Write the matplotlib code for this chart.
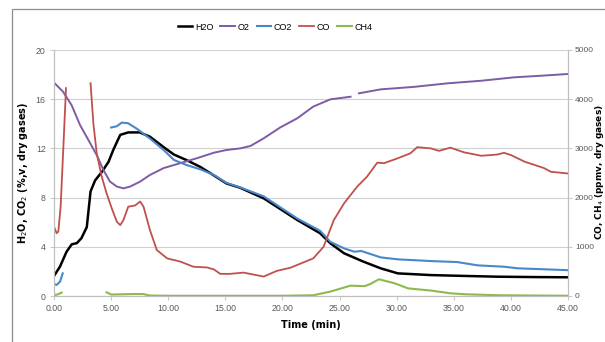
import numpy as np
import matplotlib.pyplot as plt
from matplotlib.lines import Line2D
from matplotlib.patches import Rectangle

nan = np.nan

# H2O [%]
t_h2o = [0, 0.53, 1.1, 1.55, 2.0, 2.4, 2.87, 3.2, 3.6, 4.2, 4.77, 5.2, 5.8, 6.5, 7.5, 8.4, 9.6,
         10.5, 11.6, 12.8, 14.0, 15.1, 16.3, 18.36, 21.3, 23.3, 24.2, 25.4, 27.1, 28.6, 30.1,
         33.0, 36.0, 38.8, 42.0, 45.0]
h2o = [1.63, 2.4, 3.6, 4.2, 4.3, 4.7, 5.6, 8.5, 9.4, 10.1, 10.9, 11.9, 13.1, 13.3, 13.3, 12.95, 12.1,
       11.5, 11.05, 10.5, 9.8, 9.15, 8.8, 7.94, 6.18, 5.1, 4.28, 3.47, 2.79, 2.25, 1.84,
       1.7, 1.63, 1.57, 1.54, 1.52]

# O2 [%]
t_o2 = [0, 0.8, 1.55, 2.28, 3.0, 3.74, 4.33, 4.9, 5.5, 6.08, 6.67, 7.54, 8.4, 9.6, 11.05, 12.5,
        14.0, 15.1, 16.3, 17.2, 18.36, 19.8, 21.3, 22.7, 24.2, 25.96, 26.3, 26.7, 28.6, 31.5,
        34.45, 37.4, 40.3, 42.5, 45.0]
o2 = [17.35, 16.6, 15.5, 13.9, 12.7, 11.46, 10.24, 9.3, 8.9, 8.75, 8.9, 9.3, 9.84, 10.4, 10.8, 11.2,
      11.65, 11.87, 12.0, 12.2, 12.82, 13.7, 14.45, 15.4, 15.99, 16.2, nan, 16.48, 16.8, 17.0,
      17.29, 17.5, 17.78, 17.9, 18.05]

# CO2 [%]
t_co2 = [0, 0.23, 0.53, 0.76, 2.0, 5.0, 5.5, 5.94, 6.5, 7.25, 8.4, 9.6, 10.5, 11.6, 12.8, 14.0,
         15.1, 16.3, 18.36, 21.3, 23.3, 24.2, 25.4, 26.3, 26.9, 28.6, 30.1, 33.0, 35.3, 37.1,
         39.4, 40.6, 45.0]
co2 = [0.98, 0.9, 1.17, 1.84, nan, 13.7, 13.8, 14.1, 14.04, 13.6, 12.8, 11.87, 11.06, 10.65, 10.3, 9.84,
       9.2, 8.83, 8.1, 6.3, 5.3, 4.4, 3.87, 3.6, 3.66, 3.14, 2.98, 2.84, 2.76, 2.49,
       2.38, 2.25, 2.1]

# CO [ppmv]
t_co = [0, 0.23, 0.38, 0.58, 0.82, 1.05, 2.0, 3.2, 3.45, 3.74, 4.18, 4.6, 5.06, 5.5, 5.8, 6.08,
        6.5, 7.1, 7.54, 7.84, 8.4, 9.0, 9.9, 11.05, 12.2, 13.4, 14.0, 14.56, 15.4, 16.6, 18.36,
        19.5, 20.7, 21.6, 22.7, 23.6, 24.5, 25.4, 26.55, 27.4, 28.3, 28.9, 30.1, 31.2, 31.8,
        33.0, 33.7, 34.7, 35.9, 37.4, 38.8, 39.4, 40.0, 41.2, 42.9, 43.5, 45.0]
co = [1410, 1275, 1310, 1815, 3025, 4225, nan, 4325, 3500, 2900, 2425, 2090, 1780, 1510, 1440, 1545,
      1815, 1840, 1920, 1815, 1340, 935, 765, 700, 595, 580, 540, 450, 450, 475, 395,
      510, 575, 660, 765, 1000, 1545, 1885, 2225, 2425, 2710, 2700, 2800, 2900, 3025,
      3000, 2950, 3015, 2920, 2850, 2875, 2910, 2865, 2730, 2600, 2525, 2490]

# CH4 [ppmv]
t_ch4 = [0, 0.3, 0.67, 2.0, 4.6, 5.0, 6.0, 7.0, 7.8, 8.4, 10.0, 15.0, 20.0, 22.7, 24.2, 25.96,
         27.2, 27.7, 28.45, 29.8, 31.0, 33.0, 34.7, 36.0, 39.0, 42.0, 45.0]
ch4 = [20, 30, 70, nan, 75, 30, 35, 40, 40, 10, 5, 5, 5, 15, 90, 210,
       200, 245, 340, 260, 155, 110, 55, 35, 15, 10, 5]

c_h2o = "#000000"
c_o2 = "#7E5BA6"
c_co2 = "#4A86C8"
c_co = "#C0504D"
c_ch4 = "#8DB94F"
tick_c = "#595959"
tick_font = "Liberation Sans"

fig = plt.figure(figsize=(6.05, 3.42), dpi=100)
ax = fig.add_axes([54 / 605, 1 - 296 / 342, (568 - 54) / 605, (296 - 50) / 342])
ax2 = ax.twinx()

ax.plot(t_h2o, h2o, color=c_h2o, lw=1.8)
ax.plot(t_o2, o2, color=c_o2, lw=1.4)
ax.plot(t_co2, co2, color=c_co2, lw=1.5)
ax2.plot(t_co, co, color=c_co, lw=1.3)
ax2.plot(t_ch4, ch4, color=c_ch4, lw=1.5)

ax.set_xlim(0, 45)
ax.set_ylim(0, 20)
ax2.set_ylim(0, 5000)
ax.set_xticks(np.arange(0, 46, 5))
ax.set_xticklabels(["%.2f" % v for v in np.arange(0, 46, 5)])
ax.set_yticks(np.arange(0, 21, 4))
ax2.set_yticks(np.arange(0, 5001, 1000))
ax.grid(axis="y", color="#D0D0D0", lw=0.8)
ax.set_axisbelow(True)

for a in (ax, ax2):
    a.spines["top"].set_visible(False)
    for s in ("left", "right", "bottom"):
        a.spines[s].set_color("#BFBFBF")
        a.spines[s].set_linewidth(0.8)
    a.tick_params(labelsize=6.3, colors=tick_c, length=3, width=0.6, pad=3)
    a.tick_params(axis="both", color="#BFBFBF")
    for lab in a.get_xticklabels() + a.get_yticklabels():
        lab.set_family(tick_font)
ax2.tick_params(labelsize=6, pad=2)

ax.set_xlabel("Time (min)", fontsize=7, fontweight="bold", labelpad=5)
ax.set_ylabel("H$_2$O, CO$_2$ (%,v, dry gases)", fontsize=7, fontweight="bold", labelpad=4)
# right axis title placed by hand so it stays inside the image
fig.text(599 / 605, 1 - 172 / 342, "CO, CH$_4$ (ppmv, dry gases)", rotation=90,
         ha="center", va="center", fontsize=6.5, fontweight="bold")

handles = [Line2D([], [], color=c_h2o, lw=1.8), Line2D([], [], color=c_o2, lw=1.4),
           Line2D([], [], color=c_co2, lw=1.5), Line2D([], [], color=c_co, lw=1.3),
           Line2D([], [], color=c_ch4, lw=1.5)]
leg = fig.legend(handles, ["H2O", "O2", "CO2", "CO", "CH4"], loc="center",
                 bbox_to_anchor=(275 / 605, 1 - 27 / 342), ncol=5, frameon=False, fontsize=6.5,
                 handlelength=1.6, columnspacing=0.8, handletextpad=0.3)
for txt in leg.get_texts():
    txt.set_family(tick_font)

fig.patches.append(Rectangle((12 / 605, -0.1), 1.1, 1 - 9 / 342 + 0.1, transform=fig.transFigure,
                             fill=False, edgecolor="#8C8C8C", lw=0.9))

fig.savefig("out.png", dpi=100)
